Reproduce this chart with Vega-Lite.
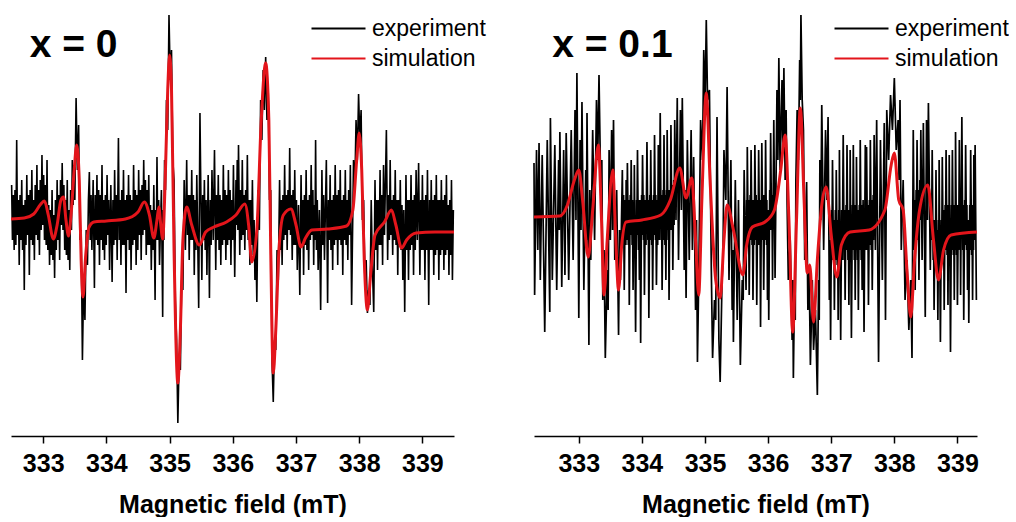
{
"$schema":"https://vega.github.io/schema/vega-lite/v6.json",
"padding":{"left":5,"top":0,"right":0,"bottom":0},
"bounds":"flush",
"spacing":80,
"datasets":{
"e0":[{"b":332.5,"v":35},{"b":332.513,"v":-20},{"b":332.527,"v":25},{"b":332.54,"v":-30},{"b":332.553,"v":30},{"b":332.567,"v":-25},{"b":332.58,"v":80},{"b":332.593,"v":-15},{"b":332.607,"v":20},{"b":332.62,"v":-45},{"b":332.633,"v":25},{"b":332.647,"v":-20},{"b":332.66,"v":40},{"b":332.673,"v":-30},{"b":332.687,"v":15},{"b":332.7,"v":-70},{"b":332.713,"v":20},{"b":332.727,"v":-25},{"b":332.74,"v":45},{"b":332.753,"v":-15},{"b":332.767,"v":25},{"b":332.78,"v":-55},{"b":332.793,"v":30},{"b":332.807,"v":-20},{"b":332.82,"v":50},{"b":332.833,"v":-25},{"b":332.847,"v":20},{"b":332.86,"v":-40},{"b":332.873,"v":35},{"b":332.887,"v":-15},{"b":332.9,"v":55},{"b":332.913,"v":-20},{"b":332.927,"v":30},{"b":332.94,"v":-35},{"b":332.953,"v":40},{"b":332.967,"v":-10},{"b":332.98,"v":65},{"b":332.993,"v":-5},{"b":333.007,"v":45},{"b":333.02,"v":-20},{"b":333.033,"v":35},{"b":333.047,"v":-25},{"b":333.06,"v":60},{"b":333.073,"v":-30},{"b":333.087,"v":15},{"b":333.1,"v":-45},{"b":333.113,"v":10},{"b":333.127,"v":-35},{"b":333.14,"v":30},{"b":333.153,"v":-40},{"b":333.167,"v":5},{"b":333.18,"v":-58},{"b":333.193,"v":20},{"b":333.207,"v":-30},{"b":333.22,"v":40},{"b":333.233,"v":-20},{"b":333.247,"v":25},{"b":333.26,"v":-40},{"b":333.273,"v":40},{"b":333.287,"v":-5},{"b":333.3,"v":57},{"b":333.313,"v":-10},{"b":333.327,"v":35},{"b":333.34,"v":-30},{"b":333.353,"v":20},{"b":333.367,"v":-35},{"b":333.38,"v":40},{"b":333.393,"v":-40},{"b":333.407,"v":10},{"b":333.42,"v":-50},{"b":333.433,"v":30},{"b":333.447,"v":-10},{"b":333.46,"v":60},{"b":333.473,"v":15},{"b":333.487,"v":55},{"b":333.5,"v":20},{"b":333.52,"v":122},{"b":333.54,"v":50},{"b":333.56,"v":95},{"b":333.58,"v":-20},{"b":333.6,"v":-10},{"b":333.62,"v":-140},{"b":333.64,"v":-60},{"b":333.66,"v":-100},{"b":333.68,"v":-10},{"b":333.7,"v":-45},{"b":333.715,"v":20},{"b":333.73,"v":48},{"b":333.743,"v":-20},{"b":333.757,"v":25},{"b":333.77,"v":-30},{"b":333.79,"v":40},{"b":333.81,"v":-68},{"b":333.823,"v":25},{"b":333.837,"v":-20},{"b":333.85,"v":45},{"b":333.863,"v":-25},{"b":333.877,"v":30},{"b":333.89,"v":-45},{"b":333.903,"v":25},{"b":333.917,"v":-20},{"b":333.93,"v":55},{"b":333.943,"v":-30},{"b":333.957,"v":20},{"b":333.97,"v":-40},{"b":333.983,"v":25},{"b":333.997,"v":-25},{"b":334.01,"v":45},{"b":334.023,"v":-15},{"b":334.037,"v":20},{"b":334.05,"v":-50},{"b":334.07,"v":35},{"b":334.09,"v":-62},{"b":334.103,"v":20},{"b":334.117,"v":-25},{"b":334.13,"v":50},{"b":334.143,"v":-20},{"b":334.157,"v":25},{"b":334.17,"v":-40},{"b":334.19,"v":82},{"b":334.203,"v":-20},{"b":334.217,"v":20},{"b":334.23,"v":-45},{"b":334.243,"v":30},{"b":334.257,"v":-25},{"b":334.27,"v":50},{"b":334.283,"v":-25},{"b":334.297,"v":20},{"b":334.31,"v":-73},{"b":334.323,"v":25},{"b":334.337,"v":-20},{"b":334.35,"v":45},{"b":334.363,"v":-30},{"b":334.377,"v":25},{"b":334.39,"v":-50},{"b":334.403,"v":20},{"b":334.417,"v":-25},{"b":334.43,"v":55},{"b":334.443,"v":-20},{"b":334.457,"v":30},{"b":334.47,"v":-45},{"b":334.483,"v":25},{"b":334.497,"v":-30},{"b":334.51,"v":50},{"b":334.523,"v":-15},{"b":334.537,"v":30},{"b":334.55,"v":-40},{"b":334.563,"v":35},{"b":334.577,"v":-15},{"b":334.59,"v":60},{"b":334.603,"v":-10},{"b":334.617,"v":40},{"b":334.63,"v":-35},{"b":334.643,"v":30},{"b":334.657,"v":-25},{"b":334.67,"v":45},{"b":334.683,"v":-25},{"b":334.697,"v":15},{"b":334.71,"v":-50},{"b":334.723,"v":10},{"b":334.737,"v":-30},{"b":334.75,"v":35},{"b":334.77,"v":-80},{"b":334.78,"v":10},{"b":334.79,"v":-20},{"b":334.8,"v":63},{"b":334.813,"v":-20},{"b":334.827,"v":20},{"b":334.84,"v":-45},{"b":334.87,"v":30},{"b":334.89,"v":-97},{"b":334.9,"v":10},{"b":334.91,"v":-20},{"b":334.92,"v":60},{"b":334.935,"v":30},{"b":334.95,"v":120},{"b":334.97,"v":90},{"b":334.99,"v":205},{"b":335.01,"v":140},{"b":335.03,"v":170},{"b":335.05,"v":60},{"b":335.07,"v":40},{"b":335.09,"v":-80},{"b":335.11,"v":-120},{"b":335.13,"v":-203},{"b":335.15,"v":-140},{"b":335.17,"v":-150},{"b":335.19,"v":-60},{"b":335.21,"v":-70},{"b":335.23,"v":40},{"b":335.25,"v":-30},{"b":335.27,"v":60},{"b":335.283,"v":-15},{"b":335.297,"v":25},{"b":335.31,"v":-40},{"b":335.323,"v":25},{"b":335.337,"v":-20},{"b":335.35,"v":50},{"b":335.363,"v":-20},{"b":335.377,"v":25},{"b":335.39,"v":-55},{"b":335.403,"v":20},{"b":335.417,"v":-30},{"b":335.43,"v":45},{"b":335.46,"v":-88},{"b":335.48,"v":107},{"b":335.51,"v":-60},{"b":335.523,"v":25},{"b":335.537,"v":-20},{"b":335.55,"v":40},{"b":335.563,"v":-30},{"b":335.577,"v":20},{"b":335.59,"v":-55},{"b":335.61,"v":45},{"b":335.63,"v":-78},{"b":335.643,"v":20},{"b":335.657,"v":-25},{"b":335.67,"v":50},{"b":335.69,"v":-20},{"b":335.71,"v":70},{"b":335.73,"v":-50},{"b":335.743,"v":25},{"b":335.757,"v":-20},{"b":335.77,"v":45},{"b":335.783,"v":-30},{"b":335.797,"v":25},{"b":335.81,"v":-45},{"b":335.823,"v":20},{"b":335.837,"v":-25},{"b":335.85,"v":55},{"b":335.863,"v":-20},{"b":335.877,"v":30},{"b":335.89,"v":-40},{"b":335.903,"v":25},{"b":335.917,"v":-25},{"b":335.93,"v":50},{"b":335.943,"v":-20},{"b":335.957,"v":30},{"b":335.97,"v":-45},{"b":335.983,"v":20},{"b":335.997,"v":-20},{"b":336.01,"v":55},{"b":336.03,"v":-57},{"b":336.05,"v":40},{"b":336.06,"v":-5},{"b":336.07,"v":60},{"b":336.08,"v":-10},{"b":336.09,"v":75},{"b":336.11,"v":-35},{"b":336.123,"v":30},{"b":336.137,"v":-20},{"b":336.15,"v":60},{"b":336.163,"v":-15},{"b":336.177,"v":25},{"b":336.19,"v":-30},{"b":336.203,"v":30},{"b":336.217,"v":-10},{"b":336.23,"v":65},{"b":336.243,"v":-20},{"b":336.257,"v":20},{"b":336.27,"v":-45},{"b":336.283,"v":20},{"b":336.297,"v":-25},{"b":336.31,"v":40},{"b":336.323,"v":-35},{"b":336.337,"v":0},{"b":336.35,"v":-60},{"b":336.365,"v":-20},{"b":336.38,"v":-82},{"b":336.4,"v":30},{"b":336.42,"v":-10},{"b":336.44,"v":120},{"b":336.46,"v":80},{"b":336.48,"v":150},{"b":336.5,"v":110},{"b":336.52,"v":163},{"b":336.54,"v":100},{"b":336.56,"v":130},{"b":336.58,"v":20},{"b":336.6,"v":30},{"b":336.62,"v":-140},{"b":336.64,"v":-182},{"b":336.66,"v":-120},{"b":336.68,"v":-130},{"b":336.7,"v":-30},{"b":336.72,"v":-60},{"b":336.74,"v":40},{"b":336.753,"v":-30},{"b":336.767,"v":20},{"b":336.78,"v":-45},{"b":336.793,"v":25},{"b":336.807,"v":-20},{"b":336.82,"v":55},{"b":336.833,"v":-15},{"b":336.847,"v":25},{"b":336.86,"v":-30},{"b":336.873,"v":30},{"b":336.887,"v":-10},{"b":336.9,"v":72},{"b":336.913,"v":-15},{"b":336.927,"v":25},{"b":336.94,"v":-40},{"b":336.953,"v":30},{"b":336.967,"v":-25},{"b":336.98,"v":50},{"b":336.993,"v":-25},{"b":337.007,"v":20},{"b":337.02,"v":-50},{"b":337.04,"v":15},{"b":337.06,"v":-75},{"b":337.08,"v":45},{"b":337.093,"v":-25},{"b":337.107,"v":20},{"b":337.12,"v":-55},{"b":337.133,"v":25},{"b":337.147,"v":-25},{"b":337.16,"v":50},{"b":337.173,"v":-30},{"b":337.187,"v":20},{"b":337.2,"v":-50},{"b":337.213,"v":25},{"b":337.227,"v":-20},{"b":337.24,"v":55},{"b":337.253,"v":-15},{"b":337.267,"v":30},{"b":337.28,"v":-45},{"b":337.29,"v":15},{"b":337.3,"v":-20},{"b":337.31,"v":80},{"b":337.323,"v":-30},{"b":337.337,"v":20},{"b":337.35,"v":-50},{"b":337.37,"v":10},{"b":337.39,"v":-90},{"b":337.41,"v":50},{"b":337.423,"v":-25},{"b":337.437,"v":25},{"b":337.45,"v":-40},{"b":337.48,"v":60},{"b":337.5,"v":-83},{"b":337.513,"v":20},{"b":337.527,"v":-20},{"b":337.54,"v":45},{"b":337.553,"v":-30},{"b":337.567,"v":20},{"b":337.58,"v":-50},{"b":337.593,"v":25},{"b":337.607,"v":-25},{"b":337.62,"v":55},{"b":337.633,"v":-20},{"b":337.647,"v":25},{"b":337.66,"v":-45},{"b":337.673,"v":30},{"b":337.687,"v":-20},{"b":337.7,"v":50},{"b":337.713,"v":-25},{"b":337.727,"v":20},{"b":337.74,"v":-55},{"b":337.753,"v":25},{"b":337.767,"v":-20},{"b":337.78,"v":50},{"b":337.793,"v":-25},{"b":337.807,"v":20},{"b":337.82,"v":-40},{"b":337.833,"v":30},{"b":337.847,"v":-15},{"b":337.86,"v":55},{"b":337.88,"v":-85},{"b":337.91,"v":60},{"b":337.93,"v":30},{"b":337.95,"v":100},{"b":337.97,"v":60},{"b":337.99,"v":126},{"b":338.01,"v":80},{"b":338.03,"v":110},{"b":338.05,"v":0},{"b":338.07,"v":20},{"b":338.09,"v":-60},{"b":338.11,"v":-40},{"b":338.13,"v":-93},{"b":338.15,"v":-70},{"b":338.17,"v":-85},{"b":338.19,"v":20},{"b":338.21,"v":-50},{"b":338.23,"v":-92},{"b":338.25,"v":40},{"b":338.263,"v":-30},{"b":338.277,"v":20},{"b":338.29,"v":-50},{"b":338.303,"v":20},{"b":338.317,"v":-25},{"b":338.33,"v":50},{"b":338.343,"v":-25},{"b":338.357,"v":25},{"b":338.37,"v":-45},{"b":338.385,"v":55},{"b":338.4,"v":-15},{"b":338.43,"v":90},{"b":338.45,"v":-40},{"b":338.463,"v":25},{"b":338.477,"v":-20},{"b":338.49,"v":60},{"b":338.503,"v":-15},{"b":338.517,"v":20},{"b":338.53,"v":-35},{"b":338.543,"v":25},{"b":338.557,"v":-20},{"b":338.57,"v":50},{"b":338.583,"v":-25},{"b":338.597,"v":20},{"b":338.61,"v":-55},{"b":338.623,"v":20},{"b":338.637,"v":-25},{"b":338.65,"v":40},{"b":338.663,"v":-30},{"b":338.677,"v":15},{"b":338.69,"v":-60},{"b":338.705,"v":10},{"b":338.72,"v":-92},{"b":338.74,"v":45},{"b":338.753,"v":-30},{"b":338.767,"v":20},{"b":338.78,"v":-60},{"b":338.793,"v":20},{"b":338.807,"v":-30},{"b":338.82,"v":45},{"b":338.833,"v":-25},{"b":338.847,"v":20},{"b":338.86,"v":-55},{"b":338.873,"v":25},{"b":338.887,"v":-30},{"b":338.9,"v":50},{"b":338.92,"v":-20},{"b":338.94,"v":57},{"b":338.96,"v":-55},{"b":338.973,"v":20},{"b":338.987,"v":-30},{"b":339,"v":45},{"b":339.013,"v":-30},{"b":339.027,"v":20},{"b":339.04,"v":-60},{"b":339.053,"v":25},{"b":339.067,"v":-30},{"b":339.08,"v":50},{"b":339.1,"v":-85},{"b":339.113,"v":20},{"b":339.127,"v":-30},{"b":339.14,"v":40},{"b":339.153,"v":-30},{"b":339.167,"v":20},{"b":339.18,"v":-55},{"b":339.193,"v":25},{"b":339.207,"v":-35},{"b":339.22,"v":45},{"b":339.233,"v":-30},{"b":339.247,"v":20},{"b":339.26,"v":-60},{"b":339.273,"v":20},{"b":339.287,"v":-35},{"b":339.3,"v":40},{"b":339.313,"v":-30},{"b":339.327,"v":20},{"b":339.34,"v":-50},{"b":339.353,"v":25},{"b":339.367,"v":-35},{"b":339.38,"v":45},{"b":339.393,"v":-30},{"b":339.407,"v":15},{"b":339.42,"v":-55},{"b":339.433,"v":20},{"b":339.447,"v":-35},{"b":339.46,"v":40},{"b":339.475,"v":-60},{"b":339.49,"v":10}],
"s0":[{"b":332.49,"v":1},{"b":332.7,"v":2},{"b":332.85,"v":6},{"b":332.95,"v":15},{"b":333.02,"v":19},{"b":333.08,"v":5},{"b":333.16,"v":-19},{"b":333.22,"v":-5},{"b":333.28,"v":20},{"b":333.32,"v":23},{"b":333.36,"v":0},{"b":333.4,"v":-16},{"b":333.44,"v":5},{"b":333.49,"v":50},{"b":333.53,"v":75},{"b":333.57,"v":40},{"b":333.6,"v":-40},{"b":333.63,"v":-77},{"b":333.67,"v":-37},{"b":333.72,"v":-8},{"b":333.8,"v":-2},{"b":334.0,"v":-1},{"b":334.3,"v":1},{"b":334.5,"v":8},{"b":334.6,"v":18},{"b":334.68,"v":5},{"b":334.75,"v":-18},{"b":334.8,"v":0},{"b":334.83,"v":13},{"b":334.86,"v":-5},{"b":334.89,"v":-19},{"b":334.93,"v":40},{"b":334.97,"v":130},{"b":335.0,"v":165},{"b":335.03,"v":130},{"b":335.07,"v":-30},{"b":335.13,"v":-163},{"b":335.17,"v":-110},{"b":335.21,"v":-20},{"b":335.27,"v":13},{"b":335.35,"v":-5},{"b":335.47,"v":-25},{"b":335.57,"v":-12},{"b":335.7,"v":-7},{"b":335.9,"v":-2},{"b":336.05,"v":5},{"b":336.19,"v":16},{"b":336.25,"v":-5},{"b":336.3,"v":-42},{"b":336.38,"v":-10},{"b":336.45,"v":100},{"b":336.52,"v":157},{"b":336.57,"v":100},{"b":336.6,"v":-30},{"b":336.64,"v":-153},{"b":336.68,"v":-110},{"b":336.73,"v":-30},{"b":336.8,"v":5},{"b":336.92,"v":11},{"b":337.0,"v":-5},{"b":337.08,"v":-27},{"b":337.15,"v":-18},{"b":337.25,"v":-10},{"b":337.5,"v":-9},{"b":337.8,"v":-6},{"b":337.9,"v":10},{"b":337.96,"v":60},{"b":338.0,"v":87},{"b":338.04,"v":50},{"b":338.08,"v":-40},{"b":338.13,"v":-90},{"b":338.18,"v":-55},{"b":338.25,"v":-15},{"b":338.4,"v":-2},{"b":338.51,"v":10},{"b":338.58,"v":-5},{"b":338.67,"v":-28},{"b":338.75,"v":-20},{"b":338.9,"v":-13},{"b":339.2,"v":-12},{"b":339.5,"v":-12}],
"e1":[{"b":332.29,"v":57},{"b":332.3,"v":-75},{"b":332.33,"v":70},{"b":332.35,"v":-30},{"b":332.37,"v":77},{"b":332.39,"v":-60},{"b":332.42,"v":65},{"b":332.46,"v":-112},{"b":332.5,"v":80},{"b":332.54,"v":-92},{"b":332.55,"v":102},{"b":332.58,"v":-60},{"b":332.62,"v":75},{"b":332.65,"v":-70},{"b":332.68,"v":60},{"b":332.69,"v":-10},{"b":332.7,"v":88},{"b":332.73,"v":-67},{"b":332.76,"v":70},{"b":332.78,"v":-55},{"b":332.8,"v":87},{"b":332.84,"v":-60},{"b":332.88,"v":90},{"b":332.91,"v":-40},{"b":332.94,"v":110},{"b":332.955,"v":0},{"b":332.97,"v":147},{"b":333.0,"v":-98},{"b":333.02,"v":80},{"b":333.035,"v":-10},{"b":333.05,"v":118},{"b":333.08,"v":-70},{"b":333.11,"v":50},{"b":333.12,"v":-20},{"b":333.13,"v":107},{"b":333.16,"v":-125},{"b":333.175,"v":30},{"b":333.19,"v":-40},{"b":333.22,"v":90},{"b":333.25,"v":-20},{"b":333.28,"v":120},{"b":333.3,"v":60},{"b":333.32,"v":145},{"b":333.35,"v":20},{"b":333.365,"v":60},{"b":333.38,"v":-80},{"b":333.4,"v":-30},{"b":333.42,"v":-138},{"b":333.45,"v":-50},{"b":333.465,"v":-90},{"b":333.48,"v":70},{"b":333.5,"v":-20},{"b":333.52,"v":90},{"b":333.535,"v":-10},{"b":333.55,"v":100},{"b":333.57,"v":-40},{"b":333.6,"v":30},{"b":333.63,"v":-115},{"b":333.645,"v":-10},{"b":333.66,"v":-60},{"b":333.69,"v":50},{"b":333.70,"v":-20},{"b":333.71,"v":25},{"b":333.72,"v":-70},{"b":333.735,"v":20},{"b":333.745,"v":-25},{"b":333.75,"v":40},{"b":333.76,"v":-20},{"b":333.77,"v":57},{"b":333.785,"v":-25},{"b":333.79,"v":20},{"b":333.8,"v":-85},{"b":333.815,"v":25},{"b":333.82,"v":-15},{"b":333.83,"v":60},{"b":333.845,"v":-25},{"b":333.85,"v":20},{"b":333.86,"v":-70},{"b":333.87,"v":15},{"b":333.875,"v":-20},{"b":333.88,"v":55},{"b":333.9,"v":-112},{"b":333.915,"v":20},{"b":333.92,"v":-15},{"b":333.93,"v":70},{"b":333.945,"v":-30},{"b":333.95,"v":20},{"b":333.96,"v":-60},{"b":333.97,"v":20},{"b":333.98,"v":-123},{"b":333.995,"v":25},{"b":334.0,"v":-15},{"b":334.01,"v":65},{"b":334.025,"v":-20},{"b":334.03,"v":25},{"b":334.04,"v":-75},{"b":334.055,"v":20},{"b":334.065,"v":-25},{"b":334.08,"v":78},{"b":334.095,"v":-20},{"b":334.1,"v":20},{"b":334.11,"v":-98},{"b":334.125,"v":25},{"b":334.13,"v":-20},{"b":334.14,"v":70},{"b":334.155,"v":-25},{"b":334.16,"v":20},{"b":334.17,"v":-70},{"b":334.185,"v":25},{"b":334.19,"v":-15},{"b":334.2,"v":85},{"b":334.215,"v":-20},{"b":334.22,"v":25},{"b":334.23,"v":-65},{"b":334.245,"v":20},{"b":334.25,"v":-25},{"b":334.26,"v":75},{"b":334.275,"v":-20},{"b":334.29,"v":107},{"b":334.305,"v":-20},{"b":334.31,"v":25},{"b":334.32,"v":-70},{"b":334.335,"v":30},{"b":334.34,"v":-20},{"b":334.35,"v":85},{"b":334.365,"v":-25},{"b":334.37,"v":25},{"b":334.38,"v":-60},{"b":334.39,"v":30},{"b":334.395,"v":-10},{"b":334.4,"v":90},{"b":334.415,"v":-20},{"b":334.42,"v":30},{"b":334.43,"v":-80},{"b":334.445,"v":30},{"b":334.45,"v":-10},{"b":334.46,"v":95},{"b":334.475,"v":-10},{"b":334.48,"v":35},{"b":334.49,"v":-50},{"b":334.505,"v":40},{"b":334.51,"v":-5},{"b":334.52,"v":100},{"b":334.54,"v":0},{"b":334.56,"v":122},{"b":334.58,"v":-40},{"b":334.61,"v":110},{"b":334.625,"v":10},{"b":334.64,"v":122},{"b":334.67,"v":-50},{"b":334.685,"v":30},{"b":334.7,"v":-78},{"b":334.72,"v":80},{"b":334.75,"v":-40},{"b":334.78,"v":90},{"b":334.8,"v":-30},{"b":334.82,"v":63},{"b":334.85,"v":-90},{"b":334.865,"v":0},{"b":334.88,"v":-142},{"b":334.9,"v":-60},{"b":334.93,"v":100},{"b":334.96,"v":60},{"b":334.98,"v":170},{"b":335.0,"v":110},{"b":335.02,"v":200},{"b":335.04,"v":120},{"b":335.07,"v":130},{"b":335.1,"v":-50},{"b":335.12,"v":-138},{"b":335.15,"v":-80},{"b":335.17,"v":-100},{"b":335.19,"v":103},{"b":335.22,"v":-120},{"b":335.24,"v":-162},{"b":335.27,"v":-60},{"b":335.285,"v":-40},{"b":335.3,"v":70},{"b":335.33,"v":20},{"b":335.35,"v":133},{"b":335.38,"v":-60},{"b":335.41,"v":60},{"b":335.43,"v":-90},{"b":335.44,"v":-30},{"b":335.45,"v":-122},{"b":335.48,"v":40},{"b":335.51,"v":-100},{"b":335.53,"v":20},{"b":335.56,"v":-145},{"b":335.59,"v":-60},{"b":335.605,"v":-80},{"b":335.62,"v":50},{"b":335.65,"v":-70},{"b":335.66,"v":20},{"b":335.665,"v":-20},{"b":335.67,"v":73},{"b":335.685,"v":-25},{"b":335.69,"v":20},{"b":335.7,"v":-75},{"b":335.715,"v":25},{"b":335.72,"v":-20},{"b":335.73,"v":70},{"b":335.745,"v":-25},{"b":335.75,"v":20},{"b":335.76,"v":-80},{"b":335.775,"v":20},{"b":335.78,"v":-25},{"b":335.79,"v":75},{"b":335.805,"v":-20},{"b":335.81,"v":25},{"b":335.82,"v":-85},{"b":335.835,"v":20},{"b":335.84,"v":-25},{"b":335.85,"v":70},{"b":335.865,"v":-25},{"b":335.87,"v":20},{"b":335.88,"v":-107},{"b":335.9,"v":77},{"b":335.915,"v":-20},{"b":335.92,"v":25},{"b":335.93,"v":-70},{"b":335.945,"v":25},{"b":335.95,"v":-20},{"b":335.96,"v":80},{"b":335.975,"v":-25},{"b":335.98,"v":20},{"b":335.99,"v":-80},{"b":336.0,"v":10},{"b":336.01,"v":-100},{"b":336.025,"v":30},{"b":336.03,"v":-10},{"b":336.04,"v":87},{"b":336.055,"v":-10},{"b":336.06,"v":25},{"b":336.07,"v":-60},{"b":336.09,"v":100},{"b":336.11,"v":-58},{"b":336.14,"v":130},{"b":336.155,"v":60},{"b":336.17,"v":162},{"b":336.19,"v":50},{"b":336.22,"v":140},{"b":336.235,"v":70},{"b":336.25,"v":152},{"b":336.27,"v":40},{"b":336.285,"v":110},{"b":336.3,"v":20},{"b":336.32,"v":-60},{"b":336.35,"v":-20},{"b":336.38,"v":-120},{"b":336.39,"v":-60},{"b":336.4,"v":-158},{"b":336.42,"v":-60},{"b":336.43,"v":-100},{"b":336.44,"v":40},{"b":336.46,"v":110},{"b":336.48,"v":60},{"b":336.5,"v":160},{"b":336.51,"v":120},{"b":336.52,"v":205},{"b":336.54,"v":120},{"b":336.56,"v":90},{"b":336.58,"v":-40},{"b":336.61,"v":38},{"b":336.63,"v":-90},{"b":336.65,"v":-50},{"b":336.67,"v":-145},{"b":336.7,"v":-60},{"b":336.72,"v":-130},{"b":336.75,"v":-90},{"b":336.78,"v":-175},{"b":336.8,"v":-60},{"b":336.81,"v":-100},{"b":336.82,"v":60},{"b":336.835,"v":0},{"b":336.85,"v":115},{"b":336.88,"v":-30},{"b":336.91,"v":90},{"b":336.93,"v":20},{"b":336.95,"v":103},{"b":336.97,"v":-80},{"b":336.98,"v":-20},{"b":336.99,"v":-120},{"b":337.005,"v":10},{"b":337.01,"v":-40},{"b":337.02,"v":60},{"b":337.035,"v":-40},{"b":337.04,"v":0},{"b":337.05,"v":-90},{"b":337.065,"v":10},{"b":337.07,"v":-40},{"b":337.08,"v":50},{"b":337.095,"v":-45},{"b":337.1,"v":0},{"b":337.11,"v":-100},{"b":337.12,"v":10},{"b":337.125,"v":-30},{"b":337.13,"v":70},{"b":337.14,"v":-40},{"b":337.15,"v":-120},{"b":337.165,"v":10},{"b":337.175,"v":-40},{"b":337.19,"v":85},{"b":337.205,"v":-40},{"b":337.21,"v":10},{"b":337.22,"v":-80},{"b":337.235,"v":15},{"b":337.24,"v":-30},{"b":337.25,"v":75},{"b":337.265,"v":-40},{"b":337.27,"v":10},{"b":337.28,"v":-85},{"b":337.29,"v":10},{"b":337.295,"v":-30},{"b":337.3,"v":70},{"b":337.32,"v":-118},{"b":337.335,"v":15},{"b":337.34,"v":-30},{"b":337.35,"v":75},{"b":337.365,"v":-40},{"b":337.37,"v":15},{"b":337.38,"v":-80},{"b":337.39,"v":10},{"b":337.395,"v":-30},{"b":337.4,"v":63},{"b":337.415,"v":-40},{"b":337.42,"v":10},{"b":337.43,"v":-90},{"b":337.445,"v":15},{"b":337.45,"v":-30},{"b":337.46,"v":80},{"b":337.475,"v":-40},{"b":337.48,"v":15},{"b":337.49,"v":-70},{"b":337.505,"v":20},{"b":337.52,"v":-112},{"b":337.54,"v":75},{"b":337.55,"v":-30},{"b":337.56,"v":73},{"b":337.575,"v":-30},{"b":337.58,"v":15},{"b":337.59,"v":-85},{"b":337.605,"v":20},{"b":337.61,"v":-25},{"b":337.62,"v":80},{"b":337.635,"v":-30},{"b":337.64,"v":20},{"b":337.65,"v":-70},{"b":337.665,"v":25},{"b":337.67,"v":-20},{"b":337.68,"v":85},{"b":337.7,"v":-30},{"b":337.72,"v":100},{"b":337.75,"v":-142},{"b":337.78,"v":80},{"b":337.81,"v":-60},{"b":337.84,"v":97},{"b":337.86,"v":-100},{"b":337.88,"v":110},{"b":337.91,"v":60},{"b":337.94,"v":125},{"b":337.97,"v":90},{"b":338.0,"v":142},{"b":338.03,"v":70},{"b":338.06,"v":100},{"b":338.075,"v":40},{"b":338.09,"v":120},{"b":338.11,"v":-30},{"b":338.14,"v":40},{"b":338.17,"v":-80},{"b":338.2,"v":-40},{"b":338.23,"v":-110},{"b":338.26,"v":-60},{"b":338.28,"v":-138},{"b":338.3,"v":90},{"b":338.315,"v":-30},{"b":338.32,"v":20},{"b":338.33,"v":-70},{"b":338.345,"v":30},{"b":338.35,"v":-20},{"b":338.36,"v":80},{"b":338.375,"v":-20},{"b":338.38,"v":30},{"b":338.39,"v":-60},{"b":338.405,"v":40},{"b":338.41,"v":0},{"b":338.42,"v":90},{"b":338.44,"v":-40},{"b":338.46,"v":97},{"b":338.49,"v":-97},{"b":338.51,"v":100},{"b":338.525,"v":0},{"b":338.54,"v":117},{"b":338.57,"v":-50},{"b":338.585,"v":20},{"b":338.59,"v":-20},{"b":338.6,"v":70},{"b":338.615,"v":-40},{"b":338.62,"v":0},{"b":338.63,"v":-90},{"b":338.645,"v":0},{"b":338.65,"v":-40},{"b":338.66,"v":50},{"b":338.675,"v":-50},{"b":338.68,"v":-10},{"b":338.69,"v":-100},{"b":338.7,"v":0},{"b":338.705,"v":-40},{"b":338.71,"v":60},{"b":338.73,"v":-122},{"b":338.745,"v":0},{"b":338.75,"v":-40},{"b":338.76,"v":63},{"b":338.775,"v":-40},{"b":338.78,"v":10},{"b":338.79,"v":-90},{"b":338.805,"v":15},{"b":338.81,"v":-30},{"b":338.82,"v":70},{"b":338.835,"v":-35},{"b":338.84,"v":15},{"b":338.85,"v":-85},{"b":338.86,"v":15},{"b":338.865,"v":-30},{"b":338.87,"v":65},{"b":338.89,"v":-132},{"b":338.905,"v":15},{"b":338.91,"v":-30},{"b":338.92,"v":70},{"b":338.935,"v":-35},{"b":338.94,"v":15},{"b":338.95,"v":-80},{"b":338.96,"v":15},{"b":338.965,"v":-30},{"b":338.97,"v":88},{"b":338.985,"v":-35},{"b":338.99,"v":15},{"b":339.0,"v":-85},{"b":339.015,"v":15},{"b":339.02,"v":-30},{"b":339.03,"v":80},{"b":339.04,"v":-20},{"b":339.045,"v":10},{"b":339.05,"v":-75},{"b":339.07,"v":103},{"b":339.085,"v":-30},{"b":339.09,"v":15},{"b":339.1,"v":-100},{"b":339.115,"v":20},{"b":339.12,"v":-25},{"b":339.13,"v":75},{"b":339.145,"v":-30},{"b":339.15,"v":15},{"b":339.16,"v":-70},{"b":339.17,"v":0},{"b":339.18,"v":-103},{"b":339.195,"v":15},{"b":339.2,"v":-30},{"b":339.21,"v":70},{"b":339.225,"v":-35},{"b":339.23,"v":15},{"b":339.24,"v":-80},{"b":339.25,"v":10},{"b":339.255,"v":-30},{"b":339.26,"v":65},{"b":339.27,"v":-20},{"b":339.28,"v":75},{"b":339.3,"v":-80}],
"s1":[{"b":332.29,"v":3},{"b":332.7,"v":4},{"b":332.82,"v":15},{"b":332.93,"v":40},{"b":333.0,"v":50},{"b":333.06,"v":20},{"b":333.15,"v":-37},{"b":333.22,"v":10},{"b":333.31,"v":75},{"b":333.36,"v":0},{"b":333.4,"v":-75},{"b":333.45,"v":-20},{"b":333.54,"v":50},{"b":333.58,"v":-10},{"b":333.63,"v":-70},{"b":333.68,"v":-25},{"b":333.75,"v":-2},{"b":334.0,"v":0},{"b":334.3,"v":5},{"b":334.45,"v":20},{"b":334.6,"v":52},{"b":334.7,"v":22},{"b":334.79,"v":42},{"b":334.85,"v":-20},{"b":334.9,"v":-75},{"b":334.95,"v":20},{"b":335.02,"v":127},{"b":335.08,"v":40},{"b":335.17,"v":-60},{"b":335.24,"v":-78},{"b":335.3,"v":-20},{"b":335.35,"v":15},{"b":335.45,"v":-10},{"b":335.6,"v":-55},{"b":335.66,"v":-25},{"b":335.75,"v":-7},{"b":335.95,"v":-2},{"b":336.1,"v":10},{"b":336.2,"v":50},{"b":336.27,"v":85},{"b":336.33,"v":0},{"b":336.39,"v":-112},{"b":336.45,"v":0},{"b":336.51,"v":112},{"b":336.57,"v":20},{"b":336.62,"v":-53},{"b":336.66,"v":-45},{"b":336.72,"v":-102},{"b":336.78,"v":-40},{"b":336.85,"v":15},{"b":336.92,"v":33},{"b":337.0,"v":-15},{"b":337.09,"v":-57},{"b":337.16,"v":-25},{"b":337.3,"v":-12},{"b":337.6,"v":-10},{"b":337.85,"v":10},{"b":337.95,"v":55},{"b":338.0,"v":67},{"b":338.07,"v":20},{"b":338.14,"v":10},{"b":338.2,"v":-50},{"b":338.26,"v":-97},{"b":338.32,"v":-40},{"b":338.4,"v":10},{"b":338.53,"v":35},{"b":338.62,"v":-20},{"b":338.7,"v":-60},{"b":338.78,"v":-30},{"b":338.9,"v":-15},{"b":339.31,"v":-12}]
},
"hconcat":[
{"width":443,"height":436,
 "layer":[
  {"data":{"name":"e0"},"mark":{"type":"line","strokeWidth":1.6},
   "encoding":{
    "x":{"field":"b","type":"quantitative","scale":{"domain":[332.49,339.5],"nice":false,"zero":false},"axis":{"values":[333,334,335,336,337,338,339],"format":"d","title":"Magnetic field (mT)"}},
    "y":{"field":"v","type":"quantitative","scale":{"domain":[-216,220],"nice":false,"zero":false},"axis":null},
    "color":{"datum":"experiment","type":"nominal","scale":{"domain":["experiment","simulation"],"range":["#000000","#e3151b"]},"legend":{"title":null,"orient":"none","legendX":316,"legendY":17}}}},
  {"data":{"name":"s0"},"mark":{"type":"line","strokeWidth":3,"interpolate":"monotone"},
   "encoding":{"x":{"field":"b","type":"quantitative"},"y":{"field":"v","type":"quantitative"},"color":{"datum":"simulation","type":"nominal"}}},
  {"data":{"values":[{"b":332.785,"v":163,"t":"x = 0"}]},"mark":{"type":"text","align":"left","baseline":"alphabetic","fontSize":39,"fontWeight":"bold","color":"#000000"},
   "encoding":{"x":{"field":"b","type":"quantitative"},"y":{"field":"v","type":"quantitative"},"text":{"field":"t"}}}
 ]},
{"width":443,"height":436,
 "layer":[
  {"data":{"name":"e1"},"mark":{"type":"line","strokeWidth":1.7},
   "encoding":{
    "x":{"field":"b","type":"quantitative","scale":{"domain":[332.29,339.31],"nice":false,"zero":false},"axis":{"values":[333,334,335,336,337,338,339],"format":"d","title":"Magnetic field (mT)"}},
    "y":{"field":"v","type":"quantitative","scale":{"domain":[-216,220],"nice":false,"zero":false},"axis":null},
    "color":{"datum":"experiment","type":"nominal","scale":{"domain":["experiment","simulation"],"range":["#000000","#e3151b"]},"legend":{"title":null,"orient":"none","legendX":316,"legendY":17}}}},
  {"data":{"name":"s1"},"mark":{"type":"line","strokeWidth":3,"interpolate":"monotone"},
   "encoding":{"x":{"field":"b","type":"quantitative"},"y":{"field":"v","type":"quantitative"},"color":{"datum":"simulation","type":"nominal"}}},
  {"data":{"values":[{"b":332.579,"v":163,"t":"x = 0.1"}]},"mark":{"type":"text","align":"left","baseline":"alphabetic","fontSize":39,"fontWeight":"bold","color":"#000000"},
   "encoding":{"x":{"field":"b","type":"quantitative"},"y":{"field":"v","type":"quantitative"},"text":{"field":"t"}}}
 ]}
],
"resolve":{"scale":{"color":"independent","x":"independent","y":"independent"},"legend":{"color":"independent"}},
"config":{
 "font":"Liberation Sans",
 "view":{"stroke":null},
 "axis":{"grid":false,"domainColor":"#000000","domainWidth":1.5,"tickColor":"#000000","tickWidth":1.5,"tickSize":7,"labelPadding":8,"labelFontSize":25,"labelFontWeight":"bold","labelColor":"#000000","titleFontSize":25,"titleFontWeight":"bold","titleColor":"#000000","titlePadding":16,"labelFlush":false},
 "legend":{"symbolType":"M-5.4,0H5.4","symbolSize":100,"symbolStrokeWidth":2,"labelFontSize":23,"labelColor":"#000000","labelOffset":22,"rowPadding":6,"padding":0,"labelLimit":300}
}
}
